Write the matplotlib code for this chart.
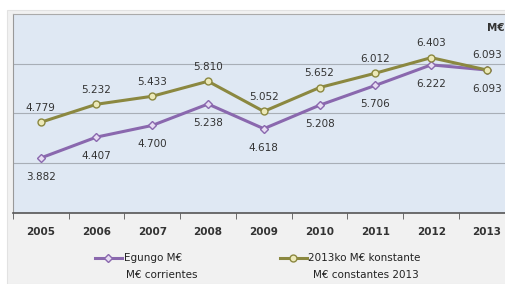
import numpy as np
import matplotlib.pyplot as plt
from matplotlib.lines import Line2D
from matplotlib.patches import Rectangle

years = ['2005', '2006', '2007', '2008', '2009', '2010', '2011', '2012', '2013']
egungo = [3.882, 4.407, 4.700, 5.238, 4.618, 5.208, 5.706, 6.222, 6.093]
konstante = [4.779, 5.232, 5.433, 5.810, 5.052, 5.652, 6.012, 6.403, 6.093]

purple = '#8a68ae'
olive = '#8b8840'
W, H = 506, 284

fig = plt.figure(figsize=(5.06, 2.84), dpi=100)
fig.patch.set_facecolor('white')
fig.add_artist(Rectangle((7/W, 0), 1, 1-10/H, transform=fig.transFigure,
                         facecolor='#f1f1f1', edgecolor='#e2e2e2', lw=0.8, zorder=0))
ax = fig.add_axes([12.8/W, 71/H, 502/W, 199/H])
ax.set_facecolor('#dfe8f3')

x = np.arange(len(years))
ax.plot(x, egungo, color=purple, lw=2.2, marker='D', ms=4.5,
        mfc='#e6dcf2', mec=purple, mew=1, zorder=3)
ax.plot(x, konstante, color=olive, lw=2.2, marker='o', ms=5,
        mfc='#ece9b8', mec=olive, mew=1, zorder=3)

#----- etiketak
for i in range(len(x)):
    ax.annotate(f'{egungo[i]:.3f}', (x[i], egungo[i]),
                xytext=(0, -10), textcoords='offset points', ha='center', va='top',
                fontsize=7.5, color='#333333')
    ax.annotate(f'{konstante[i]:.3f}', (x[i], konstante[i]),
                xytext=(0, 7), textcoords='offset points', ha='center', va='bottom',
                fontsize=7.5, color='#333333')

ax.set_xlim(-0.5, 8.5)
ax.set_ylim(2.5, 7.5)
ax.set_yticks([3.75, 5.0, 6.25])
ax.yaxis.grid(True, color='#a8aeb6', lw=0.8)
ax.set_axisbelow(True)
ax.tick_params(axis='y', left=False, labelleft=False)
ax.set_xticks(x)
ax.set_xticklabels(years, fontsize=7.5, color='#333333', fontweight='bold')
ax.tick_params(axis='x', length=0, pad=10)
ax.set_xticks(np.arange(-0.5, 9, 1), minor=True)
ax.tick_params(axis='x', which='minor', length=4, color='#555555', direction='out')
ax.spines['right'].set_visible(False)
ax.spines['top'].set_color('#aaaaaa')
ax.spines['left'].set_color('#999999')
ax.spines['bottom'].set_color('#555555')
ax.spines['bottom'].set_linewidth(1.2)
fig.text(487/W, 1-28/H, 'M€', fontsize=7.5, fontweight='bold', color='#333333',
         ha='left', va='center')

#----- legenda
fig.add_artist(Line2D([95/W, 122/W], [1-258/H, 1-258/H], color=purple, lw=2.2))
fig.add_artist(Line2D([108/W], [1-258/H], marker='D', ms=4.5, mfc='#e6dcf2',
                      mec=purple, mew=1))
fig.text(124/W, 1-258/H, 'Egungo M€', fontsize=7.5, va='center', color='#222222')
fig.text(126/W, 1-275/H, 'M€ corrientes', fontsize=7.5, va='center', color='#222222')
fig.add_artist(Line2D([280/W, 307/W], [1-258/H, 1-258/H], color=olive, lw=2.2))
fig.add_artist(Line2D([293/W], [1-258/H], marker='o', ms=5, mfc='#ece9b8',
                      mec=olive, mew=1))
fig.text(308/W, 1-258/H, '2013ko M€ konstante', fontsize=7.5, va='center', color='#222222')
fig.text(313/W, 1-275/H, 'M€ constantes 2013', fontsize=7.5, va='center', color='#222222')

plt.savefig('out.png', dpi=100, facecolor=fig.get_facecolor())
